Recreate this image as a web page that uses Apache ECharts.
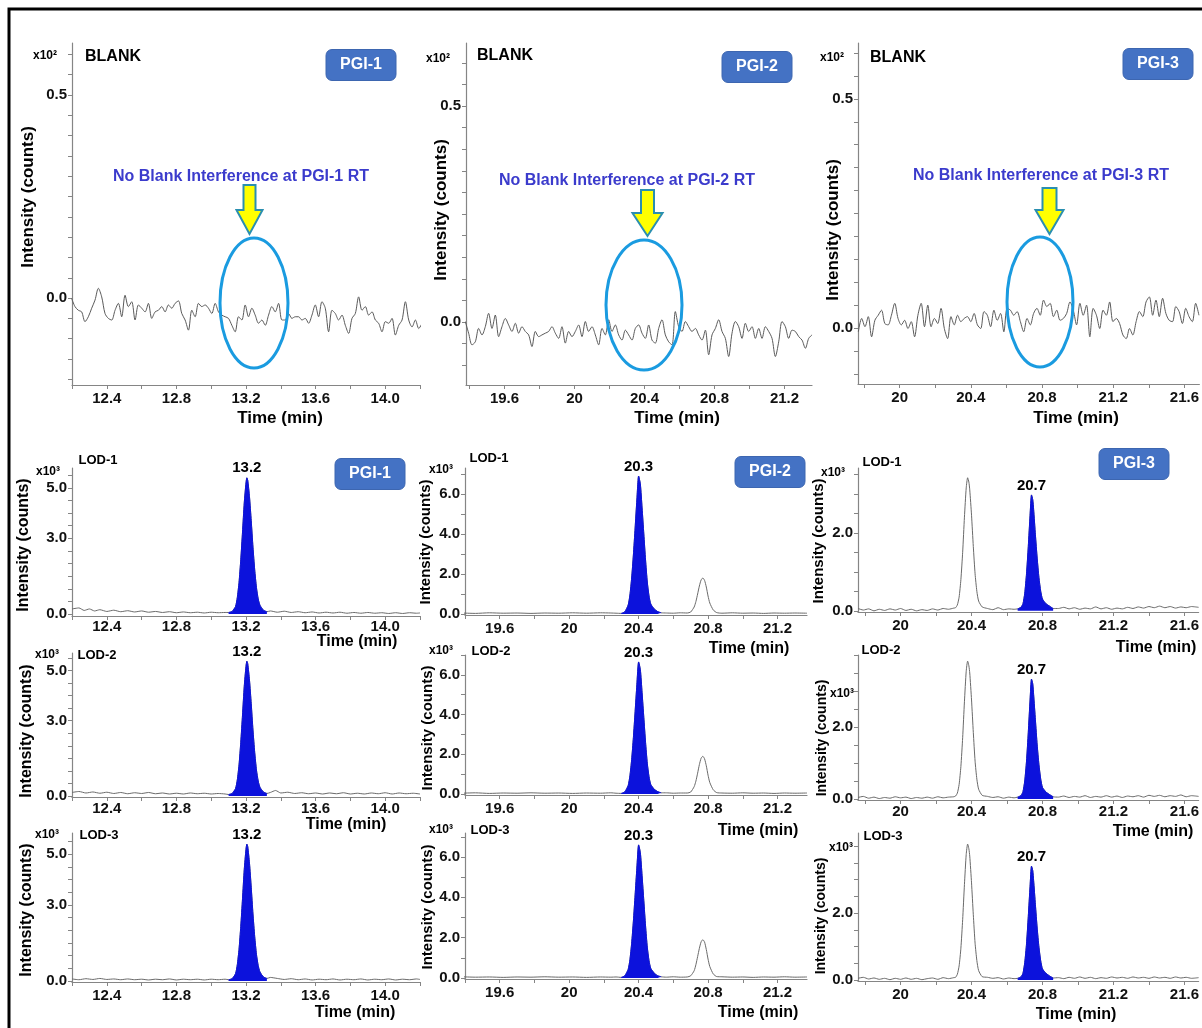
<!DOCTYPE html>
<html>
<head>
<meta charset="utf-8">
<script src="https://cdn.jsdelivr.net/npm/echarts@6/dist/echarts.min.js"></script>
<style>
html,body{margin:0;padding:0;background:#fff;}
#main{width:1202px;height:1028px;}
</style>
</head>
<body>
<div id="main"></div>
<script>
var FONT = '"Liberation Sans", Arial, sans-serif';
var BLUE = '#0c12dc';
var GREY = '#6a6a6a';

// time axis ticks / labels
var pgi1Ticks = [12.2,12.4,12.6,12.8,13.0,13.2,13.4,13.6,13.8,14.0,14.2];
var pgi1Labels = [12.4,12.8,13.2,13.6,14.0];
var pgi2Ticks = [19.4,19.6,19.8,20.0,20.2,20.4,20.6,20.8,21.0,21.2];
var pgi2Labels = [19.6,20,20.4,20.8,21.2];
var pgi3Ticks = [19.8,20.0,20.2,20.4,20.6,20.8,21.0,21.2,21.4,21.6];
var pgi3Labels = [20,20.4,20.8,21.2,21.6];

// intensity ticks / labels
var blankYTicks = [-0.2,-0.15,-0.1,-0.05,0,0.05,0.1,0.15,0.2,0.25,0.3,0.35,0.4,0.45,0.5,0.55,0.6];
var blankYLabels = [0,0.5];
var pgi1YTicks = [0,0.5,1,1.5,2,2.5,3,3.5,4,4.5,5,5.5];
var pgi1YLabels = [0,3,5];
var pgi2YTicks = [0,1,2,3,4,5,6,7];
var pgi2YLabels = [0,2,4,6];
var pgi3YTicks = [0,0.5,1,1.5,2,2.5,3,3.5,4];
var pgi3YLabels = [0,2];

// blank injections (x10^2 counts), sampled on the detector grid
var blank1Start = 12.198, blank1Step = 0.01918;
var blank1Vals = [-0.001,-0.021,-0.030,-0.034,-0.058,-0.046,-0.025,-0.005,0.024,0.003,-0.038,-0.050,-0.054,-0.030,-0.013,-0.046,0.007,-0.021,-0.009,-0.054,-0.017,-0.025,-0.034,-0.013,-0.050,-0.034,-0.030,-0.021,-0.034,-0.017,-0.025,-0.013,-0.007,-0.038,-0.054,-0.079,-0.030,-0.046,-0.013,-0.021,-0.017,-0.025,-0.038,-0.013,-0.034,-0.042,-0.046,-0.050,-0.067,-0.083,-0.046,-0.054,-0.017,-0.046,-0.025,-0.042,-0.062,-0.054,-0.067,-0.042,-0.021,-0.034,-0.013,-0.054,-0.054,-0.038,-0.050,-0.046,-0.046,-0.054,-0.050,-0.062,-0.042,-0.017,-0.046,-0.009,-0.025,-0.083,-0.030,-0.038,-0.054,-0.042,-0.067,-0.087,-0.050,-0.038,0.003,-0.030,-0.021,-0.042,-0.034,-0.054,-0.062,-0.083,-0.058,-0.062,-0.050,-0.091,-0.067,-0.054,-0.009,-0.054,-0.071,-0.054,-0.075,-0.062];
var blank2Start = 19.376, blank2Step = 0.01905;
var blank2Vals = [0.001,-0.026,-0.053,-0.046,-0.015,-0.030,-0.011,0.020,-0.015,0.016,-0.034,-0.011,0.008,-0.007,-0.022,-0.003,-0.026,-0.011,-0.022,-0.030,-0.057,-0.022,-0.034,-0.030,-0.026,-0.022,-0.011,-0.026,-0.038,-0.011,-0.049,-0.022,-0.034,-0.022,-0.007,-0.034,0.001,-0.022,-0.011,-0.030,-0.053,-0.015,-0.030,0.005,-0.022,-0.007,-0.030,-0.042,-0.019,-0.030,-0.042,-0.015,-0.007,-0.026,-0.038,-0.007,-0.042,-0.049,-0.015,0.005,-0.030,-0.046,-0.053,0.024,-0.011,-0.022,0.001,-0.011,-0.022,-0.015,-0.030,-0.042,-0.019,-0.076,-0.030,-0.015,0.005,-0.022,-0.038,-0.080,-0.026,0.001,-0.011,-0.038,-0.003,-0.022,-0.011,-0.038,-0.015,-0.038,-0.011,-0.022,-0.038,-0.080,-0.046,0.001,-0.011,-0.038,-0.019,-0.022,-0.034,-0.042,-0.061,-0.038,-0.030];
var blank3Start = 19.768, blank3Step = 0.01858;
var blank3Vals = [-0.008,0.021,0.003,0.025,-0.019,0.017,0.028,0.039,0.010,0.007,0.028,0.054,0.021,0.007,0.017,-0.001,0.014,-0.019,0.028,0.054,0.003,0.050,0.003,0.021,0.010,0.043,-0.001,-0.023,0.025,0.007,0.028,0.014,0.021,0.025,0.014,0.032,0.007,-0.001,0.036,0.028,0.003,0.039,0.017,0.032,-0.008,0.043,0.039,0.028,0.036,0.014,-0.008,0.021,0.007,0.032,0.043,0.028,0.061,0.047,0.054,0.025,0.039,0.017,0.021,0.032,0.057,0.039,0.007,0.054,0.028,0.050,-0.019,0.043,0.028,-0.001,0.039,0.028,0.057,0.014,0.021,0.010,-0.015,-0.023,-0.001,-0.015,0.014,0.036,0.025,0.057,0.068,0.028,0.061,0.025,0.065,0.032,0.017,0.014,0.047,0.036,0.010,0.043,0.025,0.014,0.054,0.028];

// PGI-1 LOD (x10^3 counts)
var pgi1PeakT = [13.10,13.12,13.14,13.15,13.16,13.17,13.18,13.19,13.20,13.205,13.21,13.22,13.23,13.24,13.25,13.26,13.27,13.28,13.30,13.32];
var lod1Pgi1Peak = [0.06,0.10,0.30,0.65,1.25,2.15,3.25,4.40,5.20,5.40,5.30,4.65,3.70,2.65,1.75,1.05,0.60,0.35,0.15,0.09];
var lod2Pgi1Peak = [0.06,0.10,0.30,0.64,1.24,2.14,3.23,4.37,5.17,5.37,5.27,4.62,3.68,2.63,1.74,1.04,0.60,0.35,0.16,0.10];
var lod3Pgi1Peak = [0.05,0.09,0.29,0.64,1.25,2.15,3.24,4.39,5.19,5.39,5.29,4.64,3.69,2.64,1.75,1.05,0.61,0.36,0.16,0.10];
var lod1Pgi1Base = [[12.20,0.20],[12.24,0.24],[12.27,0.14],[12.30,0.20],[12.33,0.12],[12.36,0.17],[12.40,0.10],[12.44,0.15],[12.48,0.09],[12.52,0.13],[12.56,0.08],[12.60,0.12],[12.64,0.07],[12.68,0.10],[12.72,0.06],[12.76,0.09],[12.80,0.05],[12.84,0.08],[12.88,0.05],[12.92,0.07],[12.96,0.04],[13.00,0.07],[13.04,0.05],[13.08,0.06],
  [13.34,0.12],[13.38,0.07],[13.42,0.11],[13.46,0.06],[13.50,0.09],[13.54,0.05],[13.58,0.08],[13.62,0.04],[13.66,0.07],[13.70,0.04],[13.74,0.07],[13.78,0.03],[13.82,0.06],[13.86,0.03],[13.90,0.06],[13.94,0.03],[13.98,0.05],[14.02,0.02],[14.06,0.05],[14.10,0.02],[14.14,0.05],[14.18,0.03],[14.20,0.04]];
var lod2Pgi1Base = [[12.20,0.14],[12.24,0.18],[12.28,0.12],[12.32,0.16],[12.36,0.11],[12.40,0.15],[12.44,0.10],[12.48,0.14],[12.52,0.09],[12.56,0.13],[12.60,0.10],[12.64,0.14],[12.68,0.09],[12.72,0.12],[12.76,0.08],[12.80,0.11],[12.84,0.08],[12.88,0.12],[12.92,0.09],[12.96,0.11],[13.00,0.08],[13.04,0.10],[13.08,0.08],
  [13.34,0.14],[13.37,0.22],[13.40,0.12],[13.44,0.15],[13.48,0.10],[13.52,0.13],[13.56,0.09],[13.60,0.12],[13.64,0.08],[13.68,0.12],[13.72,0.09],[13.76,0.13],[13.80,0.08],[13.84,0.11],[13.88,0.08],[13.92,0.12],[13.96,0.09],[14.00,0.13],[14.04,0.08],[14.08,0.12],[14.12,0.09],[14.16,0.11],[14.20,0.08]];
var lod3Pgi1Base = [[12.20,0.08],[12.24,0.05],[12.28,0.09],[12.32,0.06],[12.36,0.10],[12.40,0.06],[12.44,0.08],[12.48,0.05],[12.52,0.08],[12.56,0.05],[12.60,0.07],[12.64,0.04],[12.68,0.07],[12.72,0.05],[12.76,0.08],[12.80,0.04],[12.84,0.07],[12.88,0.05],[12.92,0.07],[12.96,0.04],[13.00,0.07],[13.04,0.05],[13.08,0.07],
  [13.34,0.14],[13.38,0.10],[13.42,0.06],[13.46,0.09],[13.50,0.05],[13.54,0.08],[13.58,0.04],[13.62,0.07],[13.66,0.05],[13.70,0.08],[13.74,0.04],[13.78,0.07],[13.82,0.05],[13.86,0.08],[13.90,0.04],[13.94,0.07],[13.98,0.05],[14.02,0.08],[14.06,0.04],[14.10,0.07],[14.14,0.05],[14.18,0.08],[14.20,0.06]];

// PGI-2 LOD
var pgi2PeakT = [20.30,20.32,20.34,20.35,20.36,20.37,20.38,20.39,20.40,20.41,20.42,20.43,20.44,20.45,20.46,20.47,20.49,20.51,20.53];
var lod1Pgi2Peak = [0.03,0.10,0.45,0.95,1.80,2.95,4.30,5.70,6.90,6.50,5.30,4.00,2.70,1.60,0.90,0.50,0.25,0.12,0.06];
var lod2Pgi2Peak = [0.03,0.10,0.43,0.92,1.73,2.84,4.15,5.50,6.65,6.27,5.10,3.85,2.60,1.55,0.87,0.48,0.24,0.12,0.06];
var lod3Pgi2Peak = [0.03,0.10,0.43,0.91,1.72,2.82,4.12,5.45,6.60,6.22,5.07,3.83,2.58,1.53,0.86,0.48,0.24,0.11,0.06];
var pgi2OtherT = [20.68,20.70,20.72,20.73,20.74,20.75,20.76,20.77,20.78,20.79,20.80,20.81,20.83,20.85];
var lod1Pgi2Other = [0.05,0.10,0.35,0.62,1.00,1.40,1.70,1.80,1.68,1.35,0.90,0.55,0.20,0.07];
var lod2Pgi2Other = [0.05,0.10,0.37,0.65,1.05,1.48,1.80,1.90,1.77,1.42,0.95,0.58,0.21,0.07];
var lod3Pgi2Other = [0.05,0.11,0.36,0.66,1.06,1.47,1.79,1.90,1.78,1.41,0.94,0.57,0.20,0.07];
var lod1Pgi2Base = [[19.38,0.05],[19.46,0.03],[19.54,0.06],[19.62,0.04],[19.70,0.05],[19.78,0.03],[19.86,0.05],[19.94,0.04],[20.02,0.06],[20.10,0.04],[20.18,0.06],[20.24,0.05],[20.27,0.04],
  [20.56,0.05],[20.60,0.04],[20.64,0.06],[20.88,0.04],[20.94,0.06],[21.00,0.04],[21.06,0.05],[21.12,0.03],[21.18,0.05],[21.24,0.04],[21.30,0.05],[21.37,0.04]];
var lod2Pgi2Base = [[19.38,0.04],[19.46,0.06],[19.54,0.03],[19.62,0.05],[19.70,0.04],[19.78,0.06],[19.86,0.04],[19.94,0.05],[20.02,0.03],[20.10,0.05],[20.18,0.04],[20.24,0.06],[20.27,0.04],
  [20.56,0.06],[20.60,0.04],[20.64,0.05],[20.88,0.05],[20.94,0.04],[21.00,0.06],[21.06,0.04],[21.12,0.05],[21.18,0.03],[21.24,0.05],[21.30,0.04],[21.37,0.05]];
var lod3Pgi2Base = [[19.38,0.06],[19.46,0.04],[19.54,0.05],[19.62,0.03],[19.70,0.05],[19.78,0.04],[19.86,0.06],[19.94,0.04],[20.02,0.05],[20.10,0.03],[20.18,0.05],[20.24,0.04],[20.27,0.05],
  [20.56,0.04],[20.60,0.06],[20.64,0.04],[20.88,0.06],[20.94,0.04],[21.00,0.05],[21.06,0.03],[21.12,0.05],[21.18,0.04],[21.24,0.06],[21.30,0.04],[21.37,0.05]];

// PGI-3 LOD
var pgi3OtherT = [20.31,20.32,20.33,20.34,20.35,20.36,20.37,20.378,20.385,20.39,20.40,20.41,20.42,20.43,20.44,20.46];
var lod1Pgi3Other = [0.08,0.15,0.35,0.80,1.50,2.40,3.15,3.41,3.30,3.10,2.45,1.65,0.95,0.50,0.25,0.10];
var lod2Pgi3Other = [0.08,0.16,0.40,0.90,1.70,2.70,3.55,3.83,3.70,3.50,2.75,1.85,1.05,0.55,0.27,0.10];
var lod3Pgi3Other = [0.08,0.17,0.42,0.95,1.80,2.85,3.75,4.06,3.92,3.70,2.90,1.95,1.10,0.58,0.28,0.10];
var pgi3PeakT = [20.66,20.67,20.68,20.69,20.70,20.71,20.72,20.73,20.738,20.745,20.75,20.76,20.77,20.78,20.79,20.80,20.82,20.84,20.86];
var lod1Pgi3Peak = [0.05,0.07,0.10,0.18,0.45,0.95,1.65,2.45,2.97,2.85,2.60,1.95,1.35,0.85,0.50,0.30,0.18,0.12,0.06];
var lod2Pgi3Peak = [0.05,0.07,0.10,0.20,0.50,1.05,1.85,2.75,3.33,3.20,2.90,2.20,1.50,0.95,0.55,0.32,0.19,0.12,0.06];
var lod3Pgi3Peak = [0.05,0.07,0.10,0.20,0.52,1.08,1.90,2.80,3.40,3.27,2.97,2.25,1.55,0.98,0.57,0.33,0.20,0.12,0.06];
var lod1Pgi3Base = [[19.76,0.06],[19.79,0.02],[19.82,0.05],[19.85,0.00],[19.88,0.04],[19.91,0.01],[19.94,0.05],[19.97,0.02],[20.00,0.06],[20.03,0.01],[20.06,0.04],[20.09,0.00],[20.12,0.03],[20.15,0.01],[20.18,0.05],[20.21,0.02],[20.24,0.06],[20.27,0.04],[20.30,0.07],
  [20.49,0.06],[20.52,0.03],[20.55,0.08],[20.58,0.03],[20.61,0.05],[20.64,0.04],
  [20.89,0.06],[20.92,0.09],[20.95,0.05],[20.98,0.08],[21.01,0.04],[21.04,0.07],[21.07,0.05],[21.10,0.10],[21.13,0.05],[21.16,0.08],[21.19,0.04],[21.22,0.07],[21.25,0.05],[21.28,0.09],[21.31,0.06],[21.34,0.10],[21.37,0.07],[21.40,0.11],[21.43,0.08],[21.46,0.12],[21.49,0.08],[21.52,0.11],[21.55,0.07],[21.58,0.10],[21.61,0.08],[21.64,0.11],[21.68,0.09]];
var lod2Pgi3Base = [[19.76,0.04],[19.79,0.07],[19.82,0.02],[19.85,0.05],[19.88,0.01],[19.91,0.04],[19.94,0.02],[19.97,0.06],[20.00,0.03],[20.03,0.05],[20.06,0.01],[20.09,0.04],[20.12,0.02],[20.15,0.05],[20.18,0.02],[20.21,0.06],[20.24,0.03],[20.27,0.05],[20.30,0.06],
  [20.49,0.07],[20.52,0.04],[20.55,0.06],[20.58,0.02],[20.61,0.05],[20.64,0.03],
  [20.89,0.05],[20.92,0.08],[20.95,0.04],[20.98,0.07],[21.01,0.05],[21.04,0.09],[21.07,0.04],[21.10,0.07],[21.13,0.05],[21.16,0.09],[21.19,0.05],[21.22,0.08],[21.25,0.04],[21.28,0.08],[21.31,0.06],[21.34,0.09],[21.37,0.05],[21.40,0.10],[21.43,0.07],[21.46,0.10],[21.49,0.06],[21.52,0.09],[21.55,0.07],[21.58,0.11],[21.61,0.06],[21.64,0.09],[21.68,0.07]];
var lod3Pgi3Base = [[19.76,0.05],[19.79,0.08],[19.82,0.03],[19.85,0.06],[19.88,0.02],[19.91,0.05],[19.94,0.01],[19.97,0.05],[20.00,0.02],[20.03,0.06],[20.06,0.02],[20.09,0.05],[20.12,0.01],[20.15,0.04],[20.18,0.06],[20.21,0.02],[20.24,0.07],[20.27,0.04],[20.30,0.07],
  [20.49,0.08],[20.52,0.05],[20.55,0.07],[20.58,0.03],[20.61,0.06],[20.64,0.04],
  [20.89,0.07],[20.92,0.04],[20.95,0.08],[20.98,0.05],[21.01,0.09],[21.04,0.05],[21.07,0.08],[21.10,0.04],[21.13,0.07],[21.16,0.05],[21.19,0.09],[21.22,0.06],[21.25,0.08],[21.28,0.05],[21.31,0.09],[21.34,0.06],[21.37,0.08],[21.40,0.05],[21.43,0.09],[21.46,0.06],[21.49,0.08],[21.52,0.05],[21.55,0.09],[21.58,0.06],[21.61,0.08],[21.64,0.05],[21.68,0.07]];

// helpers
function sampled(start, step, vals) {
    var out = [];
    for (var i = 0; i < vals.length; i++) {
        out.push([start + i * step, vals[i]]);
    }
    return out;
}
function pairs(times, vals) {
    var out = [];
    for (var i = 0; i < times.length; i++) {
        out.push([times[i], vals[i]]);
    }
    return out;
}
function merge() {
    var all = [];
    for (var i = 0; i < arguments.length; i++) {
        all = all.concat(arguments[i]);
    }
    all.sort(function (a, b) { return a[0] - b[0]; });
    return all;
}

// panel layout: [left, top, width, height]
var panels = [
    {box:[72,43,348,342],  x:[12.2,14.2],    y:[-0.214,0.628], xt:pgi1Ticks, xl:pgi1Labels, yt:blankYTicks, yl:blankYLabels, lm:6,
        trace: sampled(blank1Start, blank1Step, blank1Vals)},
    {box:[466,43,346,342], x:[19.38,21.357], y:[-0.146,0.646], xt:pgi2Ticks, xl:pgi2Labels, yt:blankYTicks, yl:blankYLabels, lm:6,
        trace: sampled(blank2Start, blank2Step, blank2Vals)},
    {box:[858,43,344,341], x:[19.766,21.684],y:[-0.122,0.622], xt:pgi3Ticks, xl:pgi3Labels, yt:blankYTicks, yl:blankYLabels, lm:6,
        trace: sampled(blank3Start, blank3Step, blank3Vals)},

    {box:[72,468,348,148], x:[12.2,14.2],  y:[-0.08,5.79], xt:pgi1Ticks, xl:pgi1Labels, yt:pgi1YTicks, yl:pgi1YLabels, lm:3,
        trace: merge(lod1Pgi1Base, pairs(pgi1PeakT, lod1Pgi1Peak)), blue: pairs(pgi1PeakT, lod1Pgi1Peak), tag:'13.2'},
    {box:[465,468,342,147], x:[19.4,21.37], y:[-0.05,7.3], xt:pgi2Ticks, xl:pgi2Labels, yt:pgi2YTicks, yl:pgi2YLabels, lm:6,
        trace: merge(lod1Pgi2Base, pairs(pgi2PeakT, lod1Pgi2Peak), pairs(pgi2OtherT, lod1Pgi2Other)), blue: pairs(pgi2PeakT, lod1Pgi2Peak), tag:'20.3'},
    {box:[858,468,344,144], x:[19.76,21.68], y:[-0.03,3.66], xt:pgi3Ticks, xl:pgi3Labels, yt:pgi3YTicks, yl:pgi3YLabels, lm:6,
        trace: merge(lod1Pgi3Base, pairs(pgi3OtherT, lod1Pgi3Other), pairs(pgi3PeakT, lod1Pgi3Peak)), blue: pairs(pgi3PeakT, lod1Pgi3Peak), tag:'20.7'},

    {box:[72,653,348,144], x:[12.2,14.2],  y:[-0.04,5.7], xt:pgi1Ticks, xl:pgi1Labels, yt:pgi1YTicks, yl:pgi1YLabels, lm:4,
        trace: merge(lod2Pgi1Base, pairs(pgi1PeakT, lod2Pgi1Peak)), blue: pairs(pgi1PeakT, lod2Pgi1Peak), tag:'13.2'},
    {box:[465,655,342,140], x:[19.4,21.37], y:[-0.05,7.0], xt:pgi2Ticks, xl:pgi2Labels, yt:pgi2YTicks, yl:pgi2YLabels, lm:6,
        trace: merge(lod2Pgi2Base, pairs(pgi2PeakT, lod2Pgi2Peak), pairs(pgi2OtherT, lod2Pgi2Other)), blue: pairs(pgi2PeakT, lod2Pgi2Peak), tag:'20.3'},
    {box:[858,655,344,145], x:[19.76,21.68], y:[-0.03,4.0], xt:pgi3Ticks, xl:pgi3Labels, yt:pgi3YTicks, yl:pgi3YLabels, lm:4,
        trace: merge(lod2Pgi3Base, pairs(pgi3OtherT, lod2Pgi3Other), pairs(pgi3PeakT, lod2Pgi3Peak)), blue: pairs(pgi3PeakT, lod2Pgi3Peak), tag:'20.7'},

    {box:[72,833,348,149], x:[12.2,14.2],  y:[-0.04,5.83], xt:pgi1Ticks, xl:pgi1Labels, yt:pgi1YTicks, yl:pgi1YLabels, lm:6,
        trace: merge(lod3Pgi1Base, pairs(pgi1PeakT, lod3Pgi1Peak)), blue: pairs(pgi1PeakT, lod3Pgi1Peak), tag:'13.2'},
    {box:[465,833,342,146], x:[19.4,21.37], y:[-0.05,7.19], xt:pgi2Ticks, xl:pgi2Labels, yt:pgi2YTicks, yl:pgi2YLabels, lm:6,
        trace: merge(lod3Pgi2Base, pairs(pgi2PeakT, lod3Pgi2Peak), pairs(pgi2OtherT, lod3Pgi2Other)), blue: pairs(pgi2PeakT, lod3Pgi2Peak), tag:'20.3'},
    {box:[858,833,344,148], x:[19.76,21.68], y:[-0.03,4.39], xt:pgi3Ticks, xl:pgi3Labels, yt:pgi3YTicks, yl:pgi3YLabels, lm:6,
        trace: merge(lod3Pgi3Base, pairs(pgi3OtherT, lod3Pgi3Other), pairs(pgi3PeakT, lod3Pgi3Peak)), blue: pairs(pgi3PeakT, lod3Pgi3Peak), tag:'20.7'}
];

var axisColor = '#858585';
var grids = [], xAxes = [], yAxes = [], series = [];

panels.forEach(function (p, i) {
    grids.push({left:p.box[0], top:p.box[1], width:p.box[2], height:p.box[3], show:false});
    xAxes.push({
        type:'value', gridIndex:i, min:p.x[0], max:p.x[1],
        axisLine:{show:true, onZero:false, lineStyle:{color:axisColor, width:1.2}},
        axisTick:{show:true, customValues:p.xt, length:4, lineStyle:{color:axisColor}},
        axisLabel:{show:true, customValues:p.xl, margin:p.lm, color:'#111', fontSize:15, fontWeight:'bold', fontFamily:FONT,
            formatter:function (v) { return Math.abs(v - 20) < 1e-9 ? '20' : v.toFixed(1); }},
        splitLine:{show:false}
    });
    yAxes.push({
        type:'value', gridIndex:i, min:p.y[0], max:p.y[1],
        axisLine:{show:true, onZero:false, lineStyle:{color:axisColor, width:1.2}},
        axisTick:{show:true, customValues:p.yt, length:4, lineStyle:{color:axisColor}},
        axisLabel:{show:true, customValues:p.yl, margin:5, color:'#111', fontSize:15, fontWeight:'bold', fontFamily:FONT,
            formatter:function (v) { return v.toFixed(1); }},
        splitLine:{show:false}
    });
    series.push({
        type:'line', xAxisIndex:i, yAxisIndex:i, data:p.trace, showSymbol:false, smooth:i < 3 ? 0.3 : 0.2,
        lineStyle:{color:i < 3 ? '#5a5a5a' : GREY, width:1}, z:2, silent:true, animation:false
    });
    if (p.blue) {
        series.push({
            type:'line', xAxisIndex:i, yAxisIndex:i, data:p.blue, showSymbol:false, smooth:0.2,
            lineStyle:{color:BLUE, width:1}, areaStyle:{color:BLUE, opacity:1}, z:3, silent:true, animation:false
        });
        // apex label
        var top = p.blue[0];
        p.blue.forEach(function (d) { if (d[1] > top[1]) top = d; });
        series.push({
            type:'scatter', xAxisIndex:i, yAxisIndex:i, data:[top], symbolSize:2,
            itemStyle:{color:'rgba(0,0,0,0)', opacity:1},
            label:{show:true, position:'top', distance:1, formatter:p.tag, color:'#000', opacity:1,
                fontSize:15, fontWeight:'bold', fontFamily:FONT},
            z:4, silent:true, animation:false
        });
    }
});

// annotations
function txt(s, x, y, size, opt) {
    opt = opt || {};
    return {type:'text', x:x, y:y, rotation:opt.rot || 0, z:110, silent:true,
        style:{text:s, fill:opt.color || '#000', fontSize:size, fontWeight:'bold', fontFamily:FONT,
            align:opt.align || 'center', verticalAlign:'middle'}};
}
function pgiBox(s, cx, cy) {
    return [
        {type:'rect', z:105, silent:true, shape:{x:cx - 35, y:cy - 15.5, width:70, height:31, r:6},
            style:{fill:'#4472c4', stroke:'#3d66b0', lineWidth:1}},
        txt(s, cx, cy, 16, {color:'#ffffff'})
    ];
}
function arrow(c, y0, y1, y2, sw, hw) {
    return {type:'polygon', z:106, silent:true,
        shape:{points:[[c - sw, y0], [c + sw, y0], [c + sw, y1], [c + hw, y1], [c, y2], [c - hw, y1], [c - sw, y1]]},
        style:{fill:'#ffff00', stroke:'#2a8fb0', lineWidth:2}};
}
function ring(cx, cy, rx, ry) {
    return {type:'ellipse', z:106, silent:true, shape:{cx:cx, cy:cy, rx:rx, ry:ry},
        style:{fill:'none', stroke:'#1a9be0', lineWidth:3}};
}

var R90 = Math.PI / 2;
var graphics = [
    {type:'rect', z:120, silent:true, shape:{x:9, y:9, width:1300, height:1100}, style:{fill:'none', stroke:'#000', lineWidth:3}},
    // y axis names
    txt('Intensity (counts)', 28, 197, 17, {rot:R90}),
    txt('Intensity (counts)', 441, 210, 17, {rot:R90}),
    txt('Intensity (counts)', 833, 230, 17, {rot:R90}),
    txt('Intensity (counts)', 24, 545, 16, {rot:R90}),
    txt('Intensity (counts)', 426, 542, 15, {rot:R90}),
    txt('Intensity (counts)', 819, 541, 15, {rot:R90}),
    txt('Intensity (counts)', 27, 731, 16, {rot:R90}),
    txt('Intensity (counts)', 428, 728, 15, {rot:R90}),
    txt('Intensity (counts)', 822, 738, 14, {rot:R90}),
    txt('Intensity (counts)', 27, 910, 16, {rot:R90}),
    txt('Intensity (counts)', 428, 907, 15, {rot:R90}),
    txt('Intensity (counts)', 821, 916, 14, {rot:R90}),
    // x axis names
    txt('Time (min)', 280, 418, 17), txt('Time (min)', 677, 418, 17), txt('Time (min)', 1076, 418, 17),
    txt('Time (min)', 357, 642, 16), txt('Time (min)', 749, 649, 16), txt('Time (min)', 1156, 648, 16),
    txt('Time (min)', 346, 825, 16), txt('Time (min)', 758, 831, 16), txt('Time (min)', 1153, 832, 16),
    txt('Time (min)', 355, 1013, 16), txt('Time (min)', 758, 1013, 16), txt('Time (min)', 1076, 1015, 16),
    // scale factors
    txt('x10²', 45, 56, 12), txt('x10²', 438, 59, 12), txt('x10²', 832, 58, 12),
    txt('x10³', 48, 472, 12), txt('x10³', 441, 470, 12), txt('x10³', 833, 473, 12),
    txt('x10³', 47, 655, 12), txt('x10³', 441, 651, 12), txt('x10³', 842, 694, 12),
    txt('x10³', 47, 835, 12), txt('x10³', 441, 830, 12), txt('x10³', 841, 848, 12),
    // sample names
    txt('BLANK', 113, 57, 16), txt('BLANK', 505, 56, 16), txt('BLANK', 898, 58, 16),
    txt('LOD-1', 98, 460, 13), txt('LOD-1', 489, 458, 13), txt('LOD-1', 882, 462, 13),
    txt('LOD-2', 97, 655, 13), txt('LOD-2', 491, 651, 13), txt('LOD-2', 881, 650, 13),
    txt('LOD-3', 99, 835, 13), txt('LOD-3', 490, 830, 13), txt('LOD-3', 883, 836, 13),
    // blank notes
    txt('No Blank Interference at PGI-1 RT', 241, 177, 16, {color:'#3b3bcc'}),
    txt('No Blank Interference at PGI-2 RT', 627, 181, 16, {color:'#3b3bcc'}),
    txt('No Blank Interference at PGI-3 RT', 1041, 176, 16, {color:'#3b3bcc'}),
    arrow(249.5, 185, 210, 234, 6, 13),
    arrow(647.5, 190, 213, 236, 6.5, 15),
    arrow(1049.5, 188, 210, 234, 7, 14),
    ring(254, 303, 34, 65),
    ring(644, 305, 38, 65),
    ring(1040, 302, 33, 65)
];
graphics = graphics.concat(pgiBox('PGI-1', 361, 65), pgiBox('PGI-2', 757, 67), pgiBox('PGI-3', 1158, 64),
    pgiBox('PGI-1', 370, 474), pgiBox('PGI-2', 770, 472), pgiBox('PGI-3', 1134, 464));

var chart = echarts.init(document.getElementById('main'), null, {renderer:'canvas'});
chart.setOption({
    backgroundColor:'#ffffff',
    animation:false,
    grid:grids,
    xAxis:xAxes,
    yAxis:yAxes,
    series:series,
    graphic:graphics
});
</script>
</body>
</html>
